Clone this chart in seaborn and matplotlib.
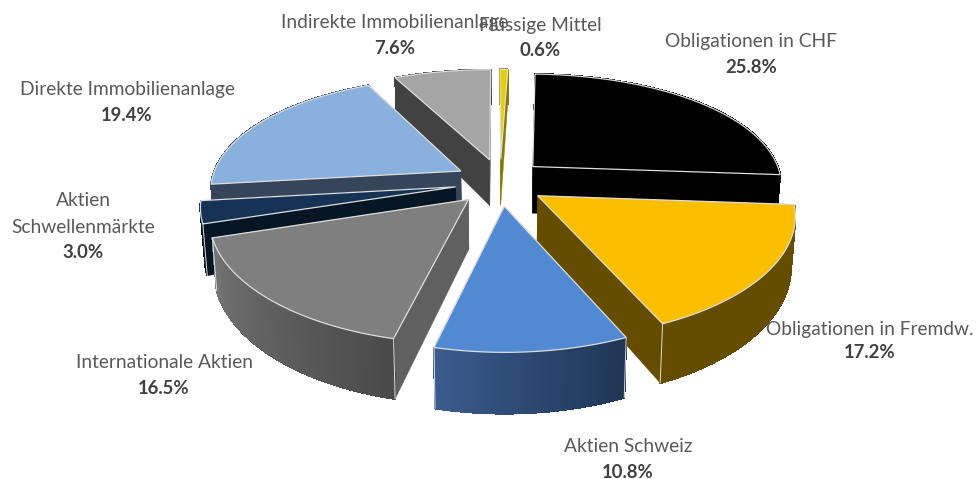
import numpy as np
import matplotlib
matplotlib.use("Agg")
import matplotlib.pyplot as plt
from matplotlib.patches import Polygon
import seaborn as sns

categories = ["Obligationen in CHF", "Obligationen in Fremdw.", "Aktien Schweiz",
              "Internationale Aktien", "Aktien\nSchwellenmärkte", "Direkte Immobilienanlage",
              "Indirekte Immobilienanlage", "Flüssige Mittel"]
values = [25.8, 17.2, 10.8, 16.5, 3.0, 19.4, 7.6, 0.6]
top_colors = ["#000000", "#FBBF00", "#5289D3", "#7F7F7F", "#163356", "#8AB0DE", "#A5A5A5", "#E8CF00"]
radial_colors = ["#000000", "#654D00", "#3A5C8E", "#606060", "#061624", "#364559", "#424242", "#8A7A00"]
arc_left = ["#000000", "#654D00", "#3A5C8E", "#757575", "#061624", "#364559", "#424242", "#8A7A00"]
arc_right = ["#000000", "#654D00", "#1F3555", "#4A4A4A", "#061624", "#364559", "#424242", "#8A7A00"]
label_xy = [(751, 41), (870, 329), (628, 446), (164, 362), (83, 201), (127, 89), (395, 22), (540, 25)]
value_xy = [(751, 67), (870, 353), (628, 472), (164, 388), (83, 253), (127, 115), (395, 48), (540, 50)]

sns.set_theme(style="white")
plt.rcParams["font.family"] = ["Lato", "DejaVu Sans"]

CX, CY, RX, RY = 500, 182, 250, 118
EX_X, EX_Y, START = 0.18, 0.20, 2.0
LABEL = "#595959"
TEXT = "#404040"
EDGE = "#DDDDDD"


def project(x, y):
    return CX + RX * x * (1 + 0.15 * y), CY + RY * y * (1 + 0.17 * y)


def height(y):
    return 48 + 11 * y


def drop(px, py, y):
    return CX + (px - CX) * 0.985, py + height(y)


fig = plt.figure(figsize=(9.76, 4.79), dpi=100)
ax = fig.add_axes([0, 0, 1, 1])
ax.set_xlim(0, 976)
ax.set_ylim(479, 0)
ax.axis("off")

frac = np.array(values) / np.sum(values)
edges = START + 360 * np.concatenate([[0], np.cumsum(frac)])
slices = []
for i in range(len(values)):
    mid = np.radians((edges[i] + edges[i + 1]) / 2)
    slices.append((-np.cos(mid), i, mid))
slices = sorted(slices)

for pos, (_, i, mid) in enumerate(slices):
    ox, oy = EX_X * np.sin(mid), -EX_Y * np.cos(mid)
    th = np.radians(np.linspace(edges[i], edges[i + 1], 60))
    xs = ox + np.sin(th)
    ys = oy - np.cos(th)
    ax_px, ay_px = project(xs, ys)
    a0x, a0y = project(ox, oy)
    b0x, b0y = drop(a0x, a0y, oy)
    z = 10 + 3 * pos

    # radial walls
    for k in (0, -1):
        bx, by = drop(ax_px[k], ay_px[k], ys[k])
        ax.add_patch(Polygon([(a0x, a0y), (ax_px[k], ay_px[k]), (bx, by), (b0x, b0y)],
                             closed=True, fc=radial_colors[i], ec=radial_colors[i], lw=0.3, zorder=z))
    # outer wall facets with a gradient
    bxs, bys = drop(ax_px, ay_px, ys)
    ramp = sns.blend_palette([arc_left[i], arc_right[i]], 60)
    rank = np.argsort(np.argsort(ax_px))
    for k in range(len(th) - 1):
        c = ramp[rank[k]]
        ax.add_patch(Polygon([(ax_px[k], ay_px[k]), (ax_px[k + 1], ay_px[k + 1]),
                              (bxs[k + 1], bys[k + 1]), (bxs[k], bys[k])],
                             closed=True, fc=c, ec=c, lw=0.8, antialiased=False, zorder=z + 1))
    # top face
    pts = [(a0x, a0y)] + list(zip(ax_px, ay_px))
    ax.add_patch(Polygon(pts, closed=True, fc=top_colors[i], ec=EDGE, lw=0.9, zorder=z + 2))
    # light corner lines on the front side
    for k in (0, -1):
        if ys[k] > 0.3:
            bx, by = drop(ax_px[k], ay_px[k], ys[k])
            ax.plot([ax_px[k], bx], [ay_px[k], by], color=EDGE, lw=0.7, zorder=z + 2)

for name, val, (lx, ly), (vx, vy) in zip(categories, values, label_xy, value_xy):
    for j, part in enumerate(name.split("\n")):
        ax.text(lx, ly + 26 * j, part, ha="center", va="center", fontsize=13.8, color=LABEL, zorder=100)
    ax.text(vx, vy, f"{val:.1f}%", ha="center", va="center", fontsize=13.3,
            fontweight="bold", color=TEXT, zorder=100)

fig.savefig("out.png", dpi=100, facecolor="white")
